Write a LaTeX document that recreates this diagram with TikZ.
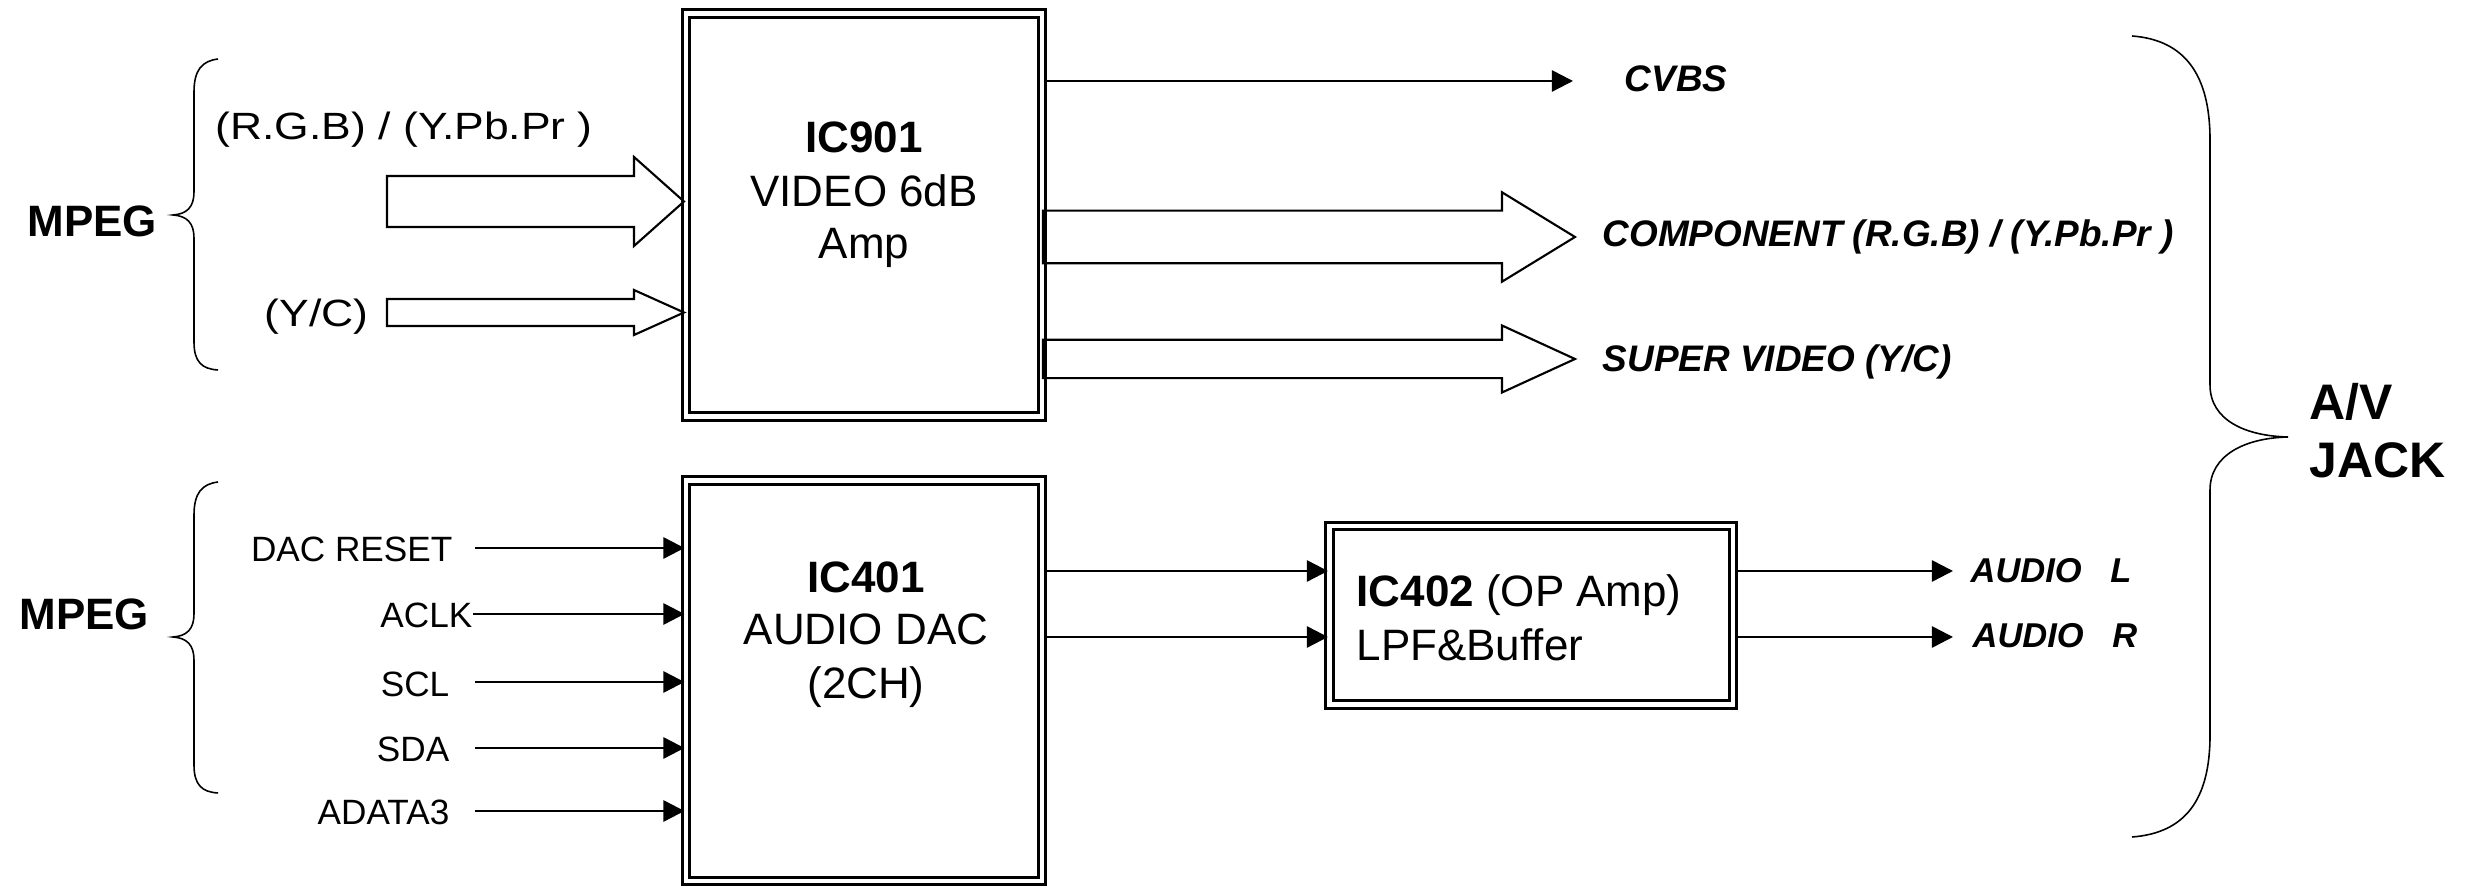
\documentclass[tikz,border=0pt]{standalone}
\usepackage{fontspec}
\setmainfont{Liberation Sans}
\newfontfamily\widefont[FakeStretch=1.17]{Liberation Sans}
\usetikzlibrary{arrows.meta,calc}
\newcommand\fatarrow[6]{\draw[fat] (#1,#4-#5) -- (#2,#4-#5) -- (#2,#4-#6) -- (#3,#4) -- (#2,#4+#6) -- (#2,#4+#5) -- (#1,#4+#5) -- cycle;}
\begin{document}
\begin{tikzpicture}[x=0.01cm,y=-0.01cm,
 icbox/.style={draw, line width=0.8pt, double, double distance=1.33pt, inner sep=0pt},
 conn/.style={line width=0.7pt, -{Triangle[length=6pt,width=6pt]}},
 fat/.style={line width=0.6pt, line join=miter},
 brace/.style={line width=0.45pt},
 lbl/.style={inner sep=0pt, font=\fontsize{10}{12}\selectfont},
 wlbl/.style={inner sep=0pt, font=\widefont\fontsize{10.8}{13}\selectfont},
 big/.style={inner sep=0pt, font=\fontsize{12.5}{15}\selectfont},
 bigb/.style={inner sep=0pt, font=\fontsize{12.5}{15}\selectfont\bfseries},
 outl/.style={inner sep=0pt, font=\fontsize{10.5}{12}\selectfont\bfseries\itshape},
 audl/.style={inner sep=0pt, font=\fontsize{9.8}{12}\selectfont\bfseries\itshape},
 jack/.style={inner sep=0pt, font=\fontsize{14.2}{17}\selectfont\bfseries},
]
\useasboundingbox (0,0) rectangle (2485,886);

% IC boxes
\node[icbox, minimum width=3.56cm, minimum height=4.03cm] (ic901) at (864,215) {};
\node[icbox, minimum width=3.56cm, minimum height=4.005cm] (ic401) at (864,680.75) {};
\node[icbox, minimum width=4.035cm, minimum height=1.785cm] (ic402) at (1531.25,615.25) {};

% IC texts
\node[bigb, anchor=base] (t901a) at (864,153) {IC901};
\node[big, anchor=base] (t901b) at (864,207) {VIDEO 6dB};
\node[big, anchor=base] (t901c) at (864,259) {Amp};
\node[bigb, anchor=base] (t401a) at (866,593) {IC401};
\node[big, anchor=base] (t401b) at (866,645) {AUDIO DAC};
\node[big, anchor=base] (t401c) at (866,699) {(2CH)};
\node[big, anchor=base west] (t402a) at (1356,607) {\textbf{IC402} (OP Amp)};
\node[big, anchor=base west] (t402b) at (1356,661) {LPF\&Buffer};

% MPEG labels and braces
\node[bigb, anchor=base west] (mpeg1) at (27,237) {MPEG};
\node[bigb, anchor=base west] (mpeg2) at (19,630) {MPEG};
\draw[brace] (218,59) .. controls (202,61) and (194,70) .. (194,92) -- (194,192) .. controls (194,207) and (187,214) .. (173,215) .. controls (187,216) and (194,223) .. (194,238) -- (194,342) .. controls (194,362) and (202,369) .. (218,370);
\draw[brace] (218,482) .. controls (202,484) and (194,493) .. (194,515) -- (194,614) .. controls (194,629) and (187,636) .. (173,637) .. controls (187,638) and (194,645) .. (194,660) -- (194,765) .. controls (194,785) and (202,792) .. (218,793);

% video inputs
\node[wlbl, anchor=base west] (rgb) at (215,140) {(R.G.B) / (Y.Pb.Pr )};
\node[wlbl, anchor=base east] (yc) at (369,327) {(Y/C)};
\fatarrow{387}{634}{684}{201.5}{25.5}{44.5}
\fatarrow{387}{634}{684}{312.5}{13.5}{22.5}

% video outputs
\coordinate (cvbsE) at (1573,81);
\draw[conn] (ic901.east |- cvbsE) -- (cvbsE);
\fatarrow{1043}{1502}{1575}{237}{26.3}{44.7}
\fatarrow{1043}{1502}{1575}{359}{19.2}{33.5}
\node[outl, anchor=base west] (cvbs) at (1624,92) {CVBS};
\node[outl, anchor=base west] (comp) at (1602,247) {COMPONENT (R.G.B) / (Y.Pb.Pr )};
\node[outl, anchor=base west] (sv) at (1602,372) {SUPER VIDEO (Y/C)};

% audio inputs
\node[lbl, anchor=base east] (l1) at (453,562) {DAC RESET};
\node[lbl, anchor=base east] (l2) at (473,628) {ACLK};
\node[lbl, anchor=base east] (l3) at (450,697) {SCL};
\node[lbl, anchor=base east] (l4) at (450,762) {SDA};
\node[lbl, anchor=base east] (l5) at (450,825) {ADATA3};
\coordinate (s1) at (475,548);
\coordinate (s2) at (473,614);
\coordinate (s3) at (475,682);
\coordinate (s4) at (475,748);
\coordinate (s5) at (475,811);
\foreach \s in {s1,s2,s3,s4,s5} \draw[conn] (\s) -- (\s -| ic401.west);

% DAC -> OP amp -> outputs
\coordinate (aL) at (1953,571);
\coordinate (aR) at (1953,637);
\draw[conn] (ic401.east |- aL) -- (ic402.west |- aL);
\draw[conn] (ic401.east |- aR) -- (ic402.west |- aR);
\draw[conn] (ic402.east |- aL) -- (aL);
\draw[conn] (ic402.east |- aR) -- (aR);
\node[audl, anchor=base west] (audL) at (1970,583) {AUDIO\ \ \ L};
\node[audl, anchor=base west] (audR) at (1972,648) {AUDIO\ \ \ R};

% A/V jack brace
\draw[brace] (2132,36) .. controls (2185,40) and (2210,75) .. (2210,140) -- (2210,385) .. controls (2210,420) and (2245,436) .. (2288,437) .. controls (2245,438) and (2210,455) .. (2210,490) -- (2210,735) .. controls (2210,800) and (2185,833) .. (2132,837);
\node[jack, anchor=base west] (av) at (2309,420) {A/V};
\node[jack, anchor=base west] (jk) at (2309,478) {JACK};
\end{tikzpicture}
\end{document}
